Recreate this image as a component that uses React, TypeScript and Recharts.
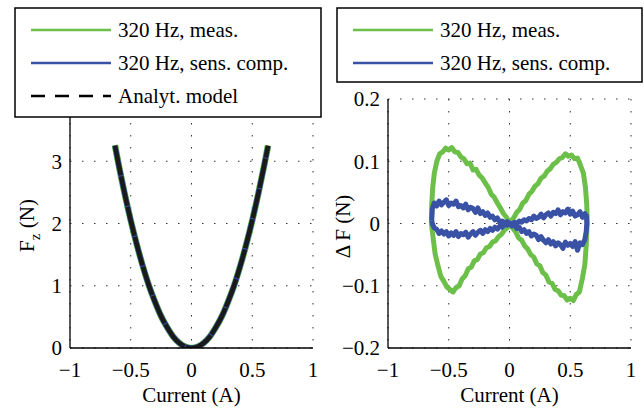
import React from 'react';
import { CartesianGrid, Label, Line, LineChart, XAxis, YAxis } from 'recharts';

// current (A) and force (N), left panel
const currentLeft = [
  -0.63, -0.6, -0.55, -0.5, -0.45, -0.4, -0.35, -0.3, -0.25, -0.2, -0.15, -0.1, -0.05, 0,
  0.05, 0.1, 0.15, 0.2, 0.25, 0.3, 0.35, 0.4, 0.45, 0.5, 0.55, 0.6, 0.63,
];
const forceMeas = [
  3.26, 2.95, 2.48, 2.05, 1.66, 1.31, 1.0, 0.74, 0.51, 0.33, 0.18, 0.08, 0.02, 0,
  0.02, 0.08, 0.18, 0.33, 0.51, 0.74, 1.0, 1.31, 1.66, 2.05, 2.48, 2.95, 3.25,
];
const forceComp = [
  3.25, 2.95, 2.48, 2.05, 1.66, 1.31, 1.0, 0.74, 0.51, 0.33, 0.18, 0.08, 0.02, 0,
  0.02, 0.08, 0.18, 0.33, 0.51, 0.74, 1.0, 1.31, 1.66, 2.05, 2.48, 2.95, 3.24,
];
const forceModel = [
  3.25, 2.95, 2.48, 2.05, 1.66, 1.31, 1.0, 0.74, 0.51, 0.33, 0.18, 0.08, 0.02, 0,
  0.02, 0.08, 0.18, 0.33, 0.51, 0.74, 1.0, 1.31, 1.66, 2.05, 2.48, 2.95, 3.25,
];

// right panel: force error loops, [current, dF]
const measLoop: [number, number][] = [
  [-0.643, 0.0], [-0.64, 0.03], [-0.632, 0.058], [-0.618, 0.082], [-0.598, 0.1], [-0.575, 0.112],
  [-0.55, 0.115], [-0.525, 0.121], [-0.5, 0.118], [-0.475, 0.122], [-0.45, 0.115], [-0.425, 0.114],
  [-0.4, 0.107], [-0.375, 0.104], [-0.35, 0.096], [-0.325, 0.097], [-0.3, 0.086], [-0.275, 0.087],
  [-0.25, 0.078], [-0.225, 0.073], [-0.2, 0.065], [-0.175, 0.058], [-0.15, 0.047], [-0.125, 0.042],
  [-0.1, 0.033], [-0.075, 0.025], [-0.05, 0.016], [-0.025, 0.01], [0.0, 0.001], [0.025, -0.007],
  [0.05, -0.013], [0.075, -0.023], [0.1, -0.027], [0.125, -0.036], [0.15, -0.041], [0.175, -0.05],
  [0.2, -0.054], [0.225, -0.065], [0.25, -0.068], [0.275, -0.079], [0.3, -0.083], [0.325, -0.094],
  [0.35, -0.096], [0.375, -0.106], [0.4, -0.108], [0.425, -0.115], [0.45, -0.116], [0.475, -0.123],
  [0.5, -0.12], [0.525, -0.124], [0.55, -0.114], [0.575, -0.11], [0.6, -0.088], [0.62, -0.066],
  [0.632, -0.033], [0.638, -0.006], [0.64, 0.0], [0.636, 0.03], [0.625, 0.058], [0.608, 0.081],
  [0.585, 0.093], [0.56, 0.105], [0.535, 0.104], [0.51, 0.11], [0.485, 0.108], [0.46, 0.112],
  [0.435, 0.106], [0.41, 0.104], [0.385, 0.098], [0.36, 0.095], [0.335, 0.088], [0.31, 0.084],
  [0.285, 0.076], [0.26, 0.073], [0.235, 0.064], [0.21, 0.06], [0.185, 0.052], [0.16, 0.047],
  [0.135, 0.037], [0.11, 0.033], [0.085, 0.023], [0.06, 0.018], [0.035, 0.009], [0.01, 0.003],
  [-0.015, -0.006], [-0.04, -0.01], [-0.065, -0.017], [-0.09, -0.021], [-0.115, -0.028],
  [-0.14, -0.03], [-0.165, -0.037], [-0.19, -0.039], [-0.215, -0.047], [-0.24, -0.049],
  [-0.265, -0.058], [-0.29, -0.06], [-0.315, -0.07], [-0.34, -0.073], [-0.365, -0.084],
  [-0.39, -0.089], [-0.415, -0.1], [-0.44, -0.103], [-0.465, -0.11], [-0.49, -0.106],
  [-0.515, -0.102], [-0.54, -0.093], [-0.565, -0.085], [-0.59, -0.067], [-0.612, -0.049],
  [-0.628, -0.024], [-0.64, -0.005], [-0.643, 0.0],
];
const compLoop: [number, number][] = [
  [-0.64, 0.005], [-0.635, 0.024], [-0.62, 0.033], [-0.6, 0.028], [-0.58, 0.036], [-0.56, 0.03],
  [-0.54, 0.034], [-0.52, 0.038], [-0.5, 0.029], [-0.48, 0.033], [-0.46, 0.031], [-0.44, 0.036],
  [-0.42, 0.027], [-0.4, 0.029], [-0.38, 0.025], [-0.36, 0.031], [-0.34, 0.022], [-0.32, 0.026],
  [-0.3, 0.024], [-0.28, 0.018], [-0.26, 0.025], [-0.24, 0.016], [-0.22, 0.019], [-0.2, 0.013],
  [-0.18, 0.017], [-0.16, 0.01], [-0.14, 0.012], [-0.12, 0.006], [-0.1, 0.009], [-0.08, 0.002],
  [-0.06, 0.004], [-0.04, 0.001], [-0.02, 0.003], [0.0, -0.001], [0.02, -0.004], [0.04, -0.002],
  [0.06, -0.008], [0.08, -0.006], [0.1, -0.013], [0.12, -0.01], [0.14, -0.016], [0.16, -0.013],
  [0.18, -0.02], [0.2, -0.017], [0.22, -0.019], [0.24, -0.026], [0.26, -0.021], [0.28, -0.027],
  [0.3, -0.031], [0.32, -0.026], [0.34, -0.033], [0.36, -0.029], [0.38, -0.036], [0.4, -0.031],
  [0.42, -0.034], [0.44, -0.04], [0.46, -0.03], [0.48, -0.035], [0.5, -0.032], [0.52, -0.037],
  [0.54, -0.029], [0.56, -0.043], [0.58, -0.031], [0.6, -0.034], [0.62, -0.026], [0.632, -0.012],
  [0.636, 0.0], [0.634, 0.012], [0.62, 0.016], [0.6, 0.01], [0.58, 0.019], [0.56, 0.014],
  [0.54, 0.012], [0.52, 0.02], [0.5, 0.015], [0.48, 0.023], [0.46, 0.017], [0.44, 0.019],
  [0.42, 0.014], [0.4, 0.022], [0.38, 0.016], [0.36, 0.018], [0.34, 0.012], [0.32, 0.017],
  [0.3, 0.014], [0.28, 0.009], [0.26, 0.015], [0.24, 0.01], [0.22, 0.008], [0.2, 0.012],
  [0.18, 0.006], [0.16, 0.008], [0.14, 0.004], [0.12, 0.006], [0.1, 0.002], [0.08, 0.004],
  [0.06, 0.0], [0.04, 0.002], [0.02, -0.001], [0.0, 0.001], [-0.02, -0.003], [-0.04, -0.001],
  [-0.06, -0.006], [-0.08, -0.004], [-0.1, -0.009], [-0.12, -0.006], [-0.14, -0.011], [-0.16, -0.008],
  [-0.18, -0.013], [-0.2, -0.01], [-0.22, -0.016], [-0.24, -0.011], [-0.26, -0.014], [-0.28, -0.019],
  [-0.3, -0.013], [-0.32, -0.017], [-0.34, -0.022], [-0.36, -0.014], [-0.38, -0.018], [-0.4, -0.016],
  [-0.42, -0.021], [-0.44, -0.013], [-0.46, -0.019], [-0.48, -0.015], [-0.5, -0.02], [-0.52, -0.013],
  [-0.54, -0.017], [-0.56, -0.012], [-0.58, -0.016], [-0.6, -0.009], [-0.62, -0.007], [-0.635, 0.0],
  [-0.64, 0.005],
];

const xTicks = [-1, -0.5, 0, 0.5, 1];
const leftYTicks = [0, 1, 2, 3, 4];
const rightYTicks = [-0.2, -0.1, 0, 0.1, 0.2];

const leftLegend = ['320 Hz, meas.', '320 Hz, sens. comp.', 'Analyt. model'];
const rightLegend = ['320 Hz, meas.', '320 Hz, sens. comp.'];

const GREEN = '#6cc04a';
const BLUE = '#3a52a6';
const FONT = '"Liberation Serif", "Times New Roman", serif';

const fmt = (v: number) => (v < 0 ? '\u2212' + Math.abs(v) : String(v));

const toXY = (xs: number[], ys: number[]) => xs.map((x, i) => ({ x, y: ys[i] }));
const pairs = (p: [number, number][]) => p.map(([x, y]) => ({ x, y }));

const tickStyle = { fontFamily: FONT, fontSize: 21, fill: '#000' };

function XLabel({ viewBox }: any) {
  const cx = viewBox.x + viewBox.width / 2;
  return (
    <text x={cx} y={viewBox.y + 54} textAnchor="middle" fontFamily={FONT} fontSize={21} fill="#000">
      Current (A)
    </text>
  );
}

function FzLabel({ viewBox }: any) {
  const cx = viewBox.x + 14;
  const cy = viewBox.y + viewBox.height / 2 + 2;
  return (
    <text x={cx} y={cy} transform={`rotate(-90 ${cx} ${cy})`} textAnchor="middle" fontFamily={FONT} fontSize={21} fill="#000">
      F<tspan dy={6} fontSize={15}>z</tspan>
      <tspan dy={-6}> (N)</tspan>
    </text>
  );
}

function DFLabel({ viewBox }: any) {
  const cx = viewBox.x + 12;
  const cy = viewBox.y + viewBox.height / 2 + 3;
  return (
    <text x={cx} y={cy} transform={`rotate(-90 ${cx} ${cy})`} textAnchor="middle" fontFamily={FONT} fontSize={21} fill="#000">
      {'\u0394 F (N)'}
    </text>
  );
}

function LegendBox({ x, y, w, h, labels }: { x: number; y: number; w: number; h: number; labels: string[] }) {
  const styles = [
    { stroke: GREEN, width: 2.5, dash: undefined },
    { stroke: BLUE, width: 2.5, dash: undefined },
    { stroke: '#000', width: 2.5, dash: '14 10' },
  ];
  return (
    <g>
      <rect x={x} y={y} width={w} height={h} fill="#fff" stroke="#000" strokeWidth={1.5} />
      {labels.map((lab, i) => {
        const ly = y + 22 + i * 33;
        return (
          <g key={lab}>
            <line x1={x + 16} x2={x + 96} y1={ly} y2={ly} stroke={styles[i].stroke} strokeWidth={styles[i].width} strokeDasharray={styles[i].dash} />
            <text x={x + 103} y={ly + 7} fontFamily={FONT} fontSize={21} fill="#000">
              {lab}
            </text>
          </g>
        );
      })}
    </g>
  );
}

export default function App() {
  const measData = toXY(currentLeft, forceMeas);
  const compData = toXY(currentLeft, forceComp);
  const modelData = toXY(currentLeft, forceModel);

  return (
    <div style={{ position: 'absolute', left: 0, top: 0, width: 644, height: 411, background: '#fff' }}>
      <div style={{ position: 'absolute', left: 0, top: 0 }}>
        <LineChart width={322} height={411} margin={{ top: 99, right: 9, bottom: 23, left: 20 }}>
          <CartesianGrid stroke="#333" strokeDasharray="1.5 10.5" />
          <XAxis
            type="number"
            dataKey="x"
            domain={[-1, 1]}
            ticks={xTicks}
            interval={0}
            tickFormatter={fmt}
            tickLine={false}
            tickMargin={8}
            height={40}
            stroke="#000"
            strokeWidth={1.3}
            tick={tickStyle}
            allowDataOverflow
          >
            <Label content={<XLabel />} />
          </XAxis>
          <YAxis
            type="number"
            domain={[0, 4]}
            ticks={leftYTicks}
            interval={0}
            tickLine={false}
            width={50}
            stroke="#000"
            strokeWidth={1.3}
            tick={tickStyle}
            allowDataOverflow
          >
            <Label content={<FzLabel />} />
          </YAxis>
          <Line data={measData} dataKey="y" type="monotone" stroke={GREEN} strokeWidth={6.5} dot={false} isAnimationActive={false} />
          <Line data={compData} dataKey="y" type="monotone" stroke={BLUE} strokeWidth={5.5} dot={false} isAnimationActive={false} />
          <Line data={modelData} dataKey="y" type="monotone" stroke="#1a1a1a" strokeWidth={4.5} strokeDasharray="30 1" dot={false} isAnimationActive={false} />
        </LineChart>
      </div>
      <div style={{ position: 'absolute', left: 322, top: 0 }}>
        <LineChart width={322} height={411} margin={{ top: 99, right: 13, bottom: 23, left: 16 }}>
          <CartesianGrid stroke="#333" strokeDasharray="1.5 10.5" />
          <XAxis
            type="number"
            dataKey="x"
            domain={[-1, 1]}
            ticks={xTicks}
            interval={0}
            tickFormatter={fmt}
            tickLine={false}
            tickMargin={8}
            height={40}
            stroke="#000"
            strokeWidth={1.3}
            tick={tickStyle}
            allowDataOverflow
          >
            <Label content={<XLabel />} />
          </XAxis>
          <YAxis
            type="number"
            domain={[-0.2, 0.2]}
            ticks={rightYTicks}
            interval={0}
            tickFormatter={fmt}
            tickLine={false}
            width={50}
            stroke="#000"
            strokeWidth={1.3}
            tick={tickStyle}
            allowDataOverflow
          >
            <Label content={<DFLabel />} />
          </YAxis>
          <Line data={pairs(measLoop)} dataKey="y" type="linear" stroke={GREEN} strokeWidth={5} strokeLinejoin="round" dot={false} isAnimationActive={false} />
          <Line data={pairs(compLoop)} dataKey="y" type="linear" stroke={BLUE} strokeWidth={5} strokeLinejoin="round" dot={false} isAnimationActive={false} />
        </LineChart>
      </div>
      <svg width={644} height={411} style={{ position: 'absolute', left: 0, top: 0, pointerEvents: 'none' }}>
        <LegendBox x={15} y={8} w={306} h={109} labels={leftLegend} />
        <LegendBox x={337} y={8} w={305} h={74} labels={rightLegend} />
      </svg>
    </div>
  );
}
